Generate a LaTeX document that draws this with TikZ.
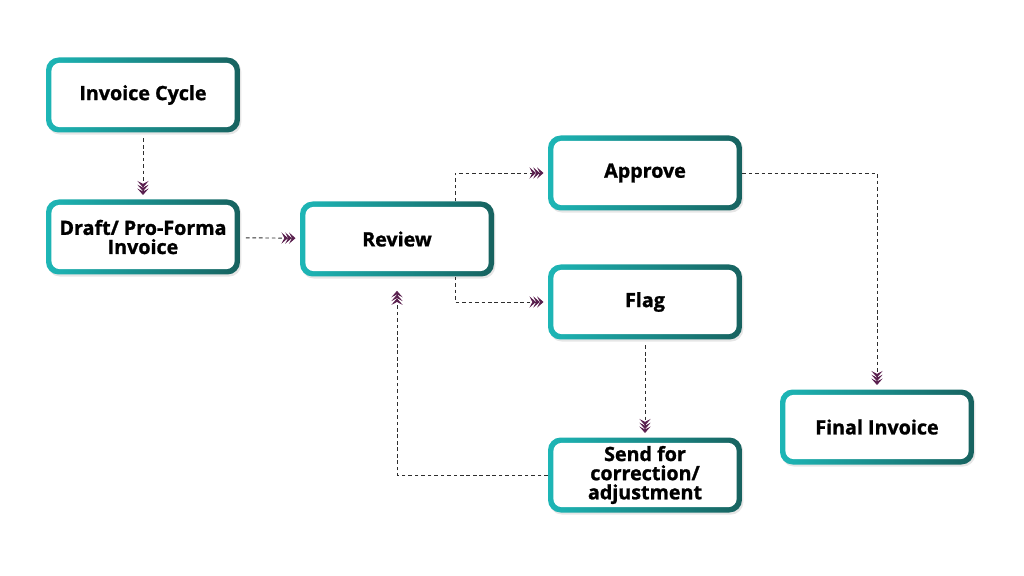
\documentclass[tikz,border=0pt]{standalone}
\usepackage{fontspec}
\setmainfont{Open Sans}[BoldFeatures={FakeBold=1.2}]
\usepackage{xcolor}
\definecolor{bxCyan}{HTML}{1DB6B6}
\definecolor{bxTeal}{HTML}{17625F}
\definecolor{tipPurple}{HTML}{5A1F4E}
\definecolor{lnGray}{HTML}{2E2E2E}
\usetikzlibrary{positioning,arrows.meta,calc,shadows}
\newlength{\pxu}\setlength{\pxu}{0.025cm}

\tikzset{
  stepbox/.style={rounded corners=9pt, minimum width=194\pxu, minimum height=75\pxu,
    align=center, inner sep=0pt, left color=bxCyan, right color=bxTeal, draw=none,
    drop shadow={opacity=0.2, shadow xshift=1pt, shadow yshift=-1.5pt},
    path picture={\fill[white, rounded corners=6pt]
      ([shift={(3.8pt,3.8pt)}]path picture bounding box.south west) rectangle
      ([shift={(-3.8pt,-3.8pt)}]path picture bounding box.north east);}},
  flow/.style={lnGray, line width=0.65pt, dash pattern=on 2.6pt off 2pt,
    -{Stealth[length=4.6pt,width=8pt,inset=2.1pt,sep=-1.9pt,tipPurple]
      Stealth[length=4.6pt,width=8pt,inset=2.1pt,sep=-1.9pt,tipPurple]
      Stealth[length=4.6pt,width=8pt,inset=2.1pt,tipPurple]},
    shorten >=3pt}
}

\begin{document}
\begin{tikzpicture}[x=0.025cm, y=-0.025cm, font=\fontsize{14}{13.6}\selectfont\bfseries]
\useasboundingbox (0,0) rectangle (1024,576);
\node[stepbox] (cycle) at (143,95) {Invoice Cycle};
\node[stepbox] (draft) at (143,237) {Draft/ Pro-Forma\\Invoice};
\node[stepbox] (review) at (397,239) {Review};
\node[stepbox] (approve) at (645,173) {Approve};
\node[stepbox] (flag) at (645,302) {Flag};
\node[stepbox] (send) at (645,475) {Send for\\correction/\\adjustment};
\node[stepbox] (final) at (877,427) {Final Invoice};
% connectors
\draw[flow, shorten <=4pt] (cycle) -- (draft);
\draw[flow, shorten <=4pt] (draft) -- (review);
\draw[flow] (review.north -| 455,0) |- (approve.west);
\draw[flow] (review.south -| 455,0) |- (flag.west);
\draw[flow, shorten <=4pt] (flag) -- (send);
\draw[flow] (approve.east) -| (final.north);
\draw[flow, shorten >=10pt] (send.west) -| (review.south);
\end{tikzpicture}
\end{document}
